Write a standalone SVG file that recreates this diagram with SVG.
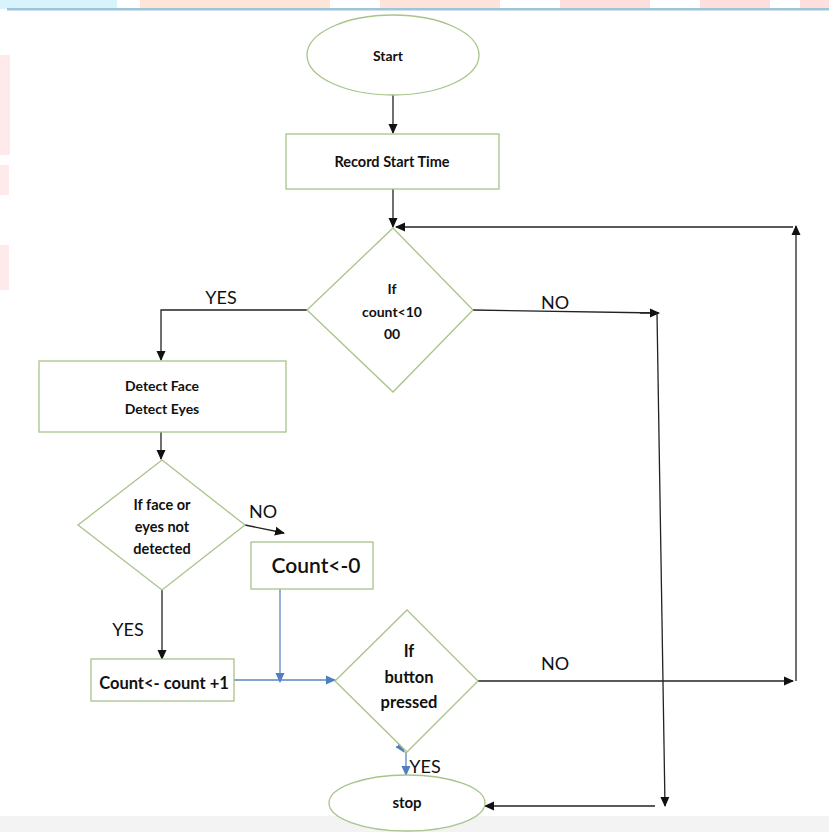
<svg xmlns="http://www.w3.org/2000/svg" width="829" height="832" viewBox="0 0 829 832">
<style>
.node{fill:#fff;stroke:#a8c48a;stroke-width:1.3}
.t{font-family:Lato,"Open Sans","Liberation Sans",sans-serif;font-weight:bold;fill:#111;text-anchor:middle}
.lbl{font-family:Lato,"Open Sans","Liberation Sans",sans-serif;fill:#111;font-size:18px;text-anchor:middle}
.c{fill:none;stroke:#222;stroke-width:1.3}
.b{fill:none;stroke:#5b86c0;stroke-width:1.3}
</style>
<defs>
<marker id="ak" markerWidth="10" markerHeight="10" refX="9" refY="5" orient="auto" markerUnits="userSpaceOnUse"><path d="M0,0.5 L10,5 L0,9.5 z" fill="#111"/></marker>
<marker id="ab" markerWidth="10" markerHeight="10" refX="9" refY="5" orient="auto" markerUnits="userSpaceOnUse"><path d="M0,0.5 L10,5 L0,9.5 z" fill="#4f7fc0"/></marker>
</defs>
<rect x="0" y="0" width="829" height="832" fill="#fff"/>
<g id="background">
<rect x="0" y="0" width="117" height="9" fill="#d8f3fb"/>
<rect x="140" y="0" width="190" height="9" fill="#fde6d8"/>
<rect x="380" y="0" width="120" height="9" fill="#fde3da"/>
<rect x="560" y="0" width="90" height="9" fill="#fde0de"/>
<rect x="700" y="0" width="70" height="9" fill="#fde0de"/>
<rect x="800" y="0" width="29" height="9" fill="#fde0de"/>
<rect x="7" y="8" width="822" height="2.5" fill="#9ec4da"/>
<rect x="0" y="55" width="10" height="100" fill="#feeaea"/>
<rect x="0" y="165" width="9" height="30" fill="#feeaea"/>
<rect x="0" y="245" width="9" height="45" fill="#feeaea"/>
<rect x="0" y="816" width="829" height="16" fill="#f3f3f3"/>
</g>
<g id="connectors">
<line class="c" x1="393" y1="95" x2="393" y2="133" marker-end="url(#ak)"/>
<line class="c" x1="393" y1="189" x2="393" y2="227" marker-end="url(#ak)"/>
<line class="c" x1="793" y1="227" x2="396" y2="227" marker-end="url(#ak)"/>
<line class="c" x1="796" y1="681" x2="796" y2="226" marker-end="url(#ak)"/>
<line class="b" x1="462" y1="310" x2="473" y2="310" marker-end="url(#ab)"/>
<polyline class="c" points="473,310 658,313"/>
<line class="c" x1="640" y1="313" x2="659" y2="313" marker-end="url(#ak)"/>
<line class="c" x1="657" y1="313" x2="665" y2="806" marker-end="url(#ak)"/>
<line class="c" x1="655" y1="806" x2="485" y2="806" marker-end="url(#ak)"/>
<polyline class="c" points="307,310 161,310 161,360" marker-end="url(#ak)"/>
<line class="c" x1="161" y1="432" x2="161" y2="459" marker-end="url(#ak)"/>
<line class="c" x1="245" y1="525" x2="284" y2="533" marker-end="url(#ak)"/>
<line class="c" x1="162" y1="590" x2="162" y2="659" marker-end="url(#ak)"/>
<line class="b" x1="280" y1="589" x2="280" y2="682" marker-end="url(#ab)"/>
<line class="b" x1="234" y1="680" x2="335" y2="680" marker-end="url(#ab)"/>
<line class="c" x1="478" y1="681" x2="793" y2="681" marker-end="url(#ak)"/>
<line class="b" x1="398" y1="743" x2="404" y2="752" marker-end="url(#ab)"/>
<line class="b" x1="406" y1="752" x2="406" y2="775" marker-end="url(#ab)"/>
<text class="lbl" x="221" y="304">YES</text>
<text class="lbl" x="555" y="309">NO</text>
<text class="lbl" x="263" y="518">NO</text>
<text class="lbl" x="128" y="636">YES</text>
<text class="lbl" x="555" y="670">NO</text>
<text class="lbl" x="425" y="773">YES</text>
</g>
<g id="start">
<ellipse class="node" cx="393" cy="55" rx="86" ry="40"/>
<text class="t" x="388" y="61" font-size="14">Start</text>
</g>
<g id="record">
<rect class="node" x="286" y="134" width="213" height="55"/>
<text class="t" x="392" y="167" font-size="14.5">Record Start Time</text>
</g>
<g id="cond-count">
<polygon class="node" points="393,228 473,310 393,392 307,310"/>
<text class="t" x="392" y="294" font-size="14">If</text>
<text class="t" x="392" y="317" font-size="14">count&lt;10</text>
<text class="t" x="392" y="339" font-size="14">00</text>
</g>
<g id="detect">
<rect class="node" x="39" y="361" width="247" height="71"/>
<text class="t" x="162" y="391" font-size="14">Detect Face</text>
<text class="t" x="162" y="414" font-size="14">Detect Eyes</text>
</g>
<g id="cond-face">
<polygon class="node" points="162,460 245,525 162,590 78,525"/>
<text class="t" x="162" y="510" font-size="14.5">If face or</text>
<text class="t" x="162" y="532" font-size="14.5">eyes not</text>
<text class="t" x="162" y="554" font-size="14.5">detected</text>
</g>
<g id="reset">
<rect class="node" x="251" y="542" width="122" height="47"/>
<text x="316" y="573" font-family="Lato,'Open Sans','Liberation Sans',sans-serif" font-size="21" font-weight="600" fill="#111" text-anchor="middle">Count&lt;-0</text>
</g>
<g id="increment">
<rect class="node" x="91" y="659" width="143" height="42"/>
<text class="t" x="164" y="689" font-size="16.5">Count&lt;- count +1</text>
</g>
<g id="cond-button">
<polygon class="node" points="407,610 478,681 407,752 335,681"/>
<text class="t" x="409" y="657" font-size="16.5">If</text>
<text class="t" x="409" y="683" font-size="16.5">button</text>
<text class="t" x="409" y="708" font-size="16.5">pressed</text>
</g>
<g id="stop">
<ellipse class="node" cx="407" cy="803" rx="78" ry="28"/>
<text class="t" x="407" y="808" font-size="15">stop</text>
</g>
</svg>
